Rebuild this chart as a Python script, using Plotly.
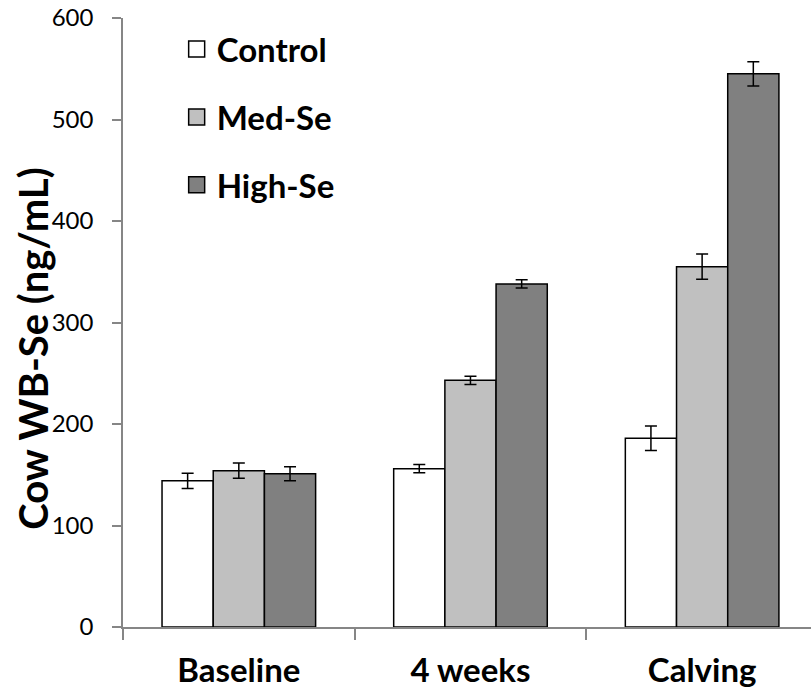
import plotly.graph_objects as go

categories = ["Baseline", "4 weeks", "Calving"]
series_names = ["Control", "Med-Se", "High-Se"]
control_vals = [144, 156, 186]
control_err = [7.5, 4, 12]
med_vals = [154, 243, 355]
med_err = [7.5, 4, 12.5]
high_vals = [151, 338, 545]
high_err = [7, 4, 12]
y_ticks = [0, 100, 200, 300, 400, 500, 600]
y_title = "Cow WB-Se (ng/mL)"

fills = ["#FFFFFF", "#C0C0C0", "#808080"]
values = [control_vals, med_vals, high_vals]
errors = [control_err, med_err, high_err]

fig = go.Figure()
for name, vals, errs, col in zip(series_names, values, errors, fills):
    fig.add_trace(go.Bar(
        x=categories, y=vals, name=name, showlegend=False,
        marker=dict(color=col, line=dict(color="#000000", width=1.5)),
        error_y=dict(type="data", array=errs, color="#000000", thickness=1.5, width=6),
    ))
for i, (name, col) in enumerate(zip(series_names, fills)):
    fig.add_trace(go.Scatter(
        x=[None], y=[None], mode="markers", name=name, legendgroup=name,
        marker=dict(symbol="square", size=16, color=col, line=dict(color="#000000", width=1.5)),
    ))

font_family = "Lato, 'Open Sans', sans-serif"
fig.add_annotation(
    text=y_title, xref="paper", yref="paper", x=-0.131, y=0.4565,
    xanchor="center", yanchor="middle", textangle=-90, showarrow=False,
    font=dict(size=40, family=font_family, color="#000000", weight="bold"),
)
fig.update_layout(
    width=811, height=693,
    margin=dict(l=123, r=0, t=18, b=66, pad=0),
    paper_bgcolor="white", plot_bgcolor="white",
    barmode="group", bargap=0.337, bargroupgap=0,
    font=dict(family=font_family, color="#000000"),
    legend=dict(x=0.078, y=0.995, xanchor="left", yanchor="top",
                font=dict(size=33, family=font_family, color="#000000", weight="bold"),
                bgcolor="rgba(0,0,0,0)", tracegroupgap=22, itemsizing="trace"),
    xaxis=dict(
        type="category", range=[-0.5, 2.47], showline=True, linecolor="#868686", linewidth=1.5,
        ticks="outside", ticklen=11, tickcolor="#868686", tickwidth=1.5, tickson="boundaries",
        tickfont=dict(size=33, family=font_family, color="#000000", weight="bold"),
        ticklabelstandoff=14, showgrid=False, zeroline=False,
    ),
    yaxis=dict(
        range=[0, 600], tickvals=y_ticks, showline=True, linecolor="#868686", linewidth=1.5,
        ticks="outside", ticklen=9, tickcolor="#868686", tickwidth=1.5,
        tickfont=dict(size=24, family=font_family, color="#000000"),
        ticklabelstandoff=14, showgrid=False, zeroline=False,
    ),
)
fig.write_html("out.html")
